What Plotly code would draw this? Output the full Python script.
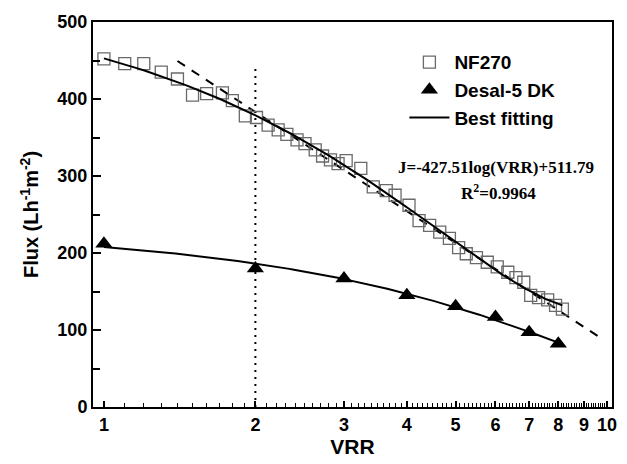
import numpy as np
import plotly.graph_objects as go

# NF270 permeate flux versus volume reduction ratio
nf_vrr = [1.00, 1.10, 1.20, 1.30, 1.40, 1.50, 1.60, 1.72, 1.80, 1.91,
          2.01, 2.12, 2.22, 2.31, 2.42, 2.51, 2.63, 2.72, 2.82, 2.92,
          3.03, 3.24, 3.43, 3.64, 3.79, 4.04, 4.23, 4.44, 4.65, 4.86,
          5.07, 5.25, 5.50, 5.78, 6.05, 6.35, 6.59, 6.83, 7.05, 7.31,
          7.62, 7.90, 8.15]
nf_flux = [452, 446, 446, 435, 426, 405, 407, 408, 398, 378,
           376, 366, 360, 354, 347, 342, 334, 326, 321, 316,
           320, 310, 286, 281, 275, 262, 242, 236, 227, 219,
           207, 199, 194, 188, 182, 175, 168, 162, 145, 142,
           139, 132, 127]

# Desal-5 DK permeate flux
dk_vrr = [1, 2, 3, 4, 5, 6, 7, 8]
dk_flux = [212, 180, 167, 145, 131, 117, 97, 82]

# Log-law fit reported for NF270: J = A*log(VRR) + B
fit_a = -427.51
fit_b = 511.79
fit_r2 = 0.9964
fit_vrr_span = [1.40, 9.70]

# Reference marker at VRR = 2
mark_vrr = 2
mark_flux_top = 445

x_ticks = [1, 2, 3, 4, 5, 6, 7, 8, 9, 10]
x_minor = [round(v, 1) for v in np.arange(1.1, 10.0, 0.1) if abs(v - round(v)) > 1e-6]

# Smooth best-fitting curves through each data set
nf_coef = np.polyfit(nf_vrr, nf_flux, 2)
nf_x = np.linspace(min(nf_vrr), max(nf_vrr), 200)
nf_y = np.polyval(nf_coef, nf_x)

dk_coef = np.polyfit(dk_vrr, dk_flux, 2)
dk_x = np.linspace(min(dk_vrr), max(dk_vrr), 200)
dk_y = np.polyval(dk_coef, dk_x)

log_x = np.logspace(np.log10(fit_vrr_span[0]), np.log10(fit_vrr_span[1]), 100)
log_y = fit_a * np.log10(log_x) + fit_b

fig = go.Figure()

fig.add_trace(go.Scatter(
    x=[mark_vrr, mark_vrr], y=[0, mark_flux_top], mode="lines",
    line=dict(color="black", width=2, dash="2px,5px"),
    showlegend=False, hoverinfo="skip"))

fig.add_trace(go.Scatter(
    x=log_x, y=log_y, mode="lines",
    line=dict(color="black", width=2, dash="9px,8px"),
    showlegend=False))

fig.add_trace(go.Scatter(
    x=nf_vrr, y=nf_flux, mode="markers", name="NF270",
    marker=dict(symbol="square-open", size=12, color="#6a6a6a",
                line=dict(width=1.3, color="#6a6a6a"))))

fig.add_trace(go.Scatter(
    x=dk_vrr, y=dk_flux, mode="markers", name="Desal-5 DK",
    marker=dict(symbol="triangle-up", size=15, color="black")))

fig.add_trace(go.Scatter(
    x=nf_x, y=nf_y, mode="lines", name="Best fitting",
    line=dict(color="black", width=2)))

fig.add_trace(go.Scatter(
    x=dk_x, y=dk_y, mode="lines", showlegend=False,
    line=dict(color="black", width=2)))

sans = "Liberation Sans, Arial, sans-serif"
serif = "Liberation Serif, Times New Roman, serif"

fig.add_annotation(
    xref="paper", yref="paper", x=0.777, y=0.623,
    xanchor="center", yanchor="middle",
    text=f"J={fit_a:.2f}log(VRR)+{fit_b:.2f}", showarrow=False,
    font=dict(family=serif, size=17, color="black", weight="bold"))
fig.add_annotation(
    xref="paper", yref="paper", x=0.781, y=0.558,
    xanchor="center", yanchor="middle",
    text=f"R<sup>2</sup>={fit_r2:.4f}", showarrow=False,
    font=dict(family=serif, size=17, color="black", weight="bold"))

fig.update_layout(
    width=627, height=464,
    margin=dict(l=93, r=10, t=22, b=57),
    paper_bgcolor="white", plot_bgcolor="white",
    font=dict(family=sans, color="black"),
    legend=dict(
        x=0.60, y=0.945, xanchor="left", yanchor="top",
        bgcolor="rgba(0,0,0,0)",
        font=dict(family=sans, size=19, color="black", weight="bold"),
        itemwidth=40),
)

fig.update_xaxes(
    type="log", range=[np.log10(1) - 0.0217, np.log10(10) + 0.0098],
    tickmode="array", tickvals=x_ticks, ticktext=[str(v) for v in x_ticks],
    ticks="inside", ticklen=6, tickwidth=1.5, tickcolor="black",
    showline=True, linewidth=2, linecolor="black", mirror=True,
    showgrid=False, zeroline=False,
    tickfont=dict(family=sans, size=18, color="black", weight="bold"),
    minor=dict(tickmode="array", tickvals=x_minor, ticks="inside",
               ticklen=4, tickwidth=1, tickcolor="black", showgrid=False),
    title=dict(text="VRR", standoff=4,
               font=dict(family=sans, size=21, color="black", weight="bold")),
)

fig.update_yaxes(
    range=[0, 500], tickmode="linear", tick0=0, dtick=100,
    ticks="inside", ticklen=8, tickwidth=1.5, tickcolor="black",
    showline=True, linewidth=2, linecolor="black", mirror=True,
    showgrid=False, zeroline=False,
    tickfont=dict(family=sans, size=18, color="black", weight="bold"),
    minor=dict(dtick=50, ticks="inside", ticklen=7, tickwidth=1.5,
               tickcolor="black", showgrid=False),
    title=dict(text="Flux (Lh<sup>-1</sup>m<sup>-2</sup>)", standoff=13,
               font=dict(family=sans, size=20, color="black", weight="bold")),
)

fig.write_html("out.html")
